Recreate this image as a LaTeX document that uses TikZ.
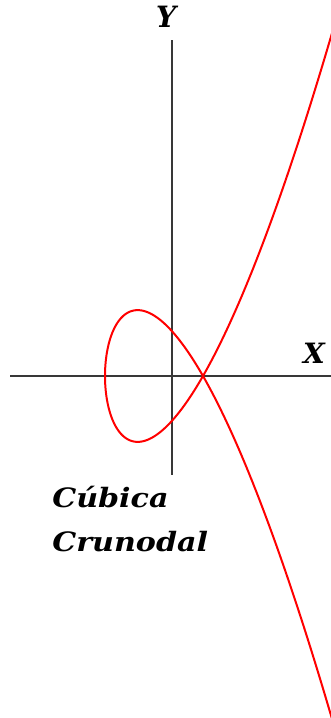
\documentclass[tikz,border=0pt]{standalone}
\usepackage{fontspec}
\setmainfont{DejaVu Serif}
\tikzset{
  axis/.style={draw=black!78, line width=1.3pt},
  curve/.style={draw=red, line width=1.5pt},
  lbl/.style={font=\bfseries\itshape\fontsize{20}{22}\selectfont, inner sep=0pt},
}
\begin{document}
\begin{tikzpicture}[x=0.75pt,y=-0.75pt]
\useasboundingbox (0,0) rectangle (331,718);
\coordinate (xl) at (10,376);
\coordinate (xr) at (331,376);
\coordinate (yt) at (172,40);
\coordinate (yb) at (172,475);
\draw[axis] (xl) -- (xr);
\draw[axis] (yt) -- (yb);
\begin{scope}
\clip (0,0) rectangle (331,718);
\draw[curve] plot[domain=-15.4:15.4, samples=301, smooth, variable=\s]
  ({203+\s*\s-98}, {376-0.1764*\s*(\s*\s-98)});
\end{scope}
\node[lbl, anchor=base] (ylab) at (166,27) {\scalebox{1.05}[1.1]{Y}};
\node[lbl, anchor=base] (xlab) at (314,363) {\scalebox{1.05}[1.05]{X}};
\node[lbl, anchor=base west] (t1) at (52,507) {\scalebox{1.13}[1]{Cúbica}};
\node[lbl, anchor=base west] (t2) at (52,551) {\scalebox{1.13}[1]{Crunodal}};
\end{tikzpicture}
\end{document}
